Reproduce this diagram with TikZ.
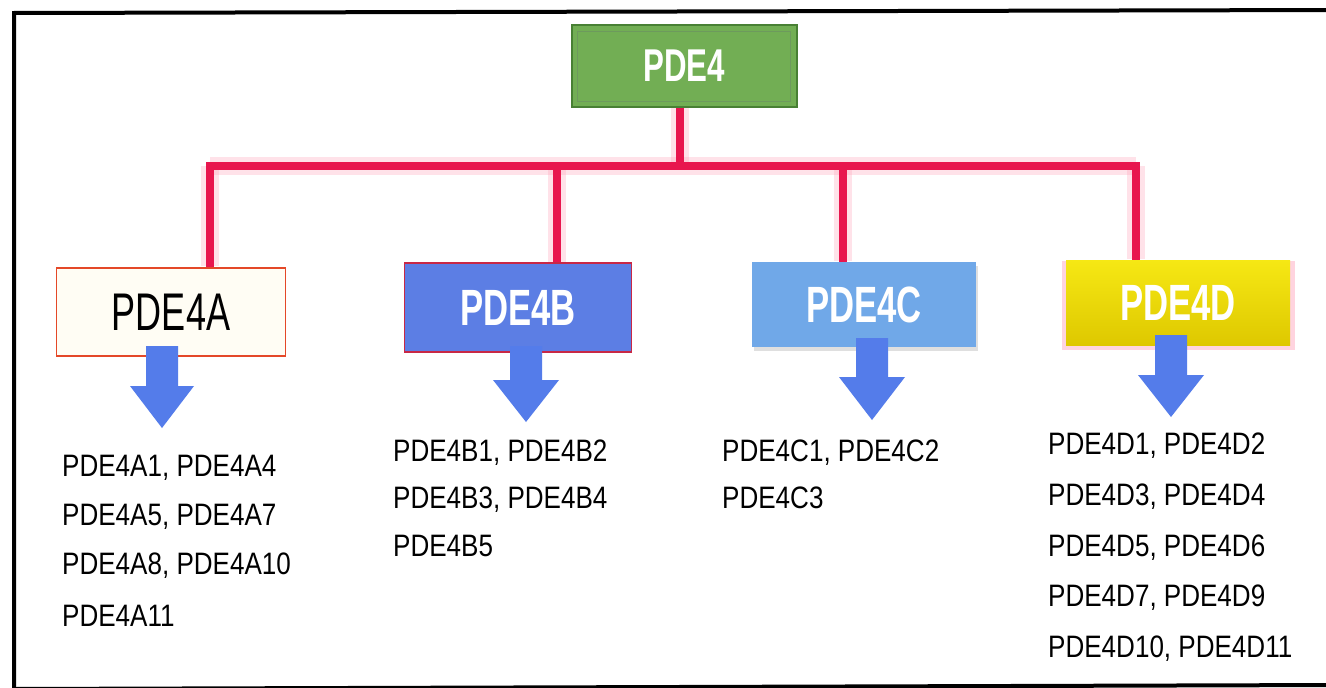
\documentclass[tikz,border=0pt]{standalone}
\usepackage{fontspec}
\setmainfont{Liberation Sans}
\newfontfamily\listfont{Liberation Sans}[FakeStretch=0.84]
\newfontfamily\headfont{Liberation Sans}[FakeStretch=0.68]
\usetikzlibrary{shadows,calc}
\definecolor{conred}{RGB}{232,22,78}
\definecolor{glowpink}{RGB}{255,160,185}
\definecolor{arrowblue}{RGB}{84,124,234}
\definecolor{greenfill}{RGB}{114,174,84}
\definecolor{greenedge}{RGB}{72,128,52}
\definecolor{bfill}{RGB}{92,126,228}
\definecolor{bedge}{RGB}{200,40,70}
\definecolor{cfill}{RGB}{112,168,232}
\definecolor{dfill}{RGB}{246,232,20}
\definecolor{dfilltwo}{RGB}{222,200,0}
\definecolor{afill}{RGB}{255,253,244}
\definecolor{aedge}{RGB}{228,72,40}
\newcommand\bluearrow[6]{\fill[arrowblue] ({#1-#3},#2) -- ({#1+#3},#2) -- ({#1+#3},#4) -- ({#1+#5},#4) -- (#1,#6) -- ({#1-#5},#4) -- ({#1-#3},#4) -- cycle;}
\tikzset{
  headbox/.style={minimum width=226pt, minimum height=86pt, inner sep=0pt,
    font=\headfont\bfseries\fontsize{51}{51}\selectfont, text=white},
  listtxt/.style={anchor=base west, inner sep=0pt, font=\listfont\fontsize{31}{31}\selectfont},
  con/.style={conred, line width=7.5pt},
  conglow/.style={glowpink, line width=18pt, opacity=0.3},
}
\begin{document}
\begin{tikzpicture}[x=1pt,y=-1pt]
\useasboundingbox (0,0) rectangle (1326,688);
\fill[white] (0,0) rectangle (1326,688);
% frame
\draw[black, line width=4pt] (14,700) -- (14,13) -- (1340,10);
\draw[black, line width=4pt] (14,689) -- (1340,685);

% junction coordinates
\coordinate (jt) at (680,166);
\coordinate (ja) at (210,166);
\coordinate (jb) at (557,166);
\coordinate (jc) at (843,166);
\coordinate (jd) at (1136,166);

% boxes
\node[headbox, fill=greenfill, draw=greenedge, line width=2pt, minimum width=225pt, minimum height=82pt,
  font=\headfont\bfseries\fontsize{46}{46}\selectfont] (pde4) at (684,66) {PDE4};
\draw[greenedge!80, line width=1pt] ($(pde4.north west)+(7,7)$) rectangle ($(pde4.south east)+(-7,-7)$);

% glow under connectors
\draw[conglow] (pde4.south -| jt) -- (jt);
\draw[conglow] (ja) -- (jd);
\draw[conglow] (ja) -- ++(0,100);
\draw[conglow] (jb) -- ++(0,96);
\draw[conglow] (jc) -- ++(0,95);
\draw[conglow] (jd) -- ++(0,93);

\node[headbox, fill=afill, draw=aedge, line width=1.5pt, minimum width=229pt, minimum height=88pt,
  text=black, font=\headfont\fontsize{53}{53}\selectfont] (pdea) at (171,312) {PDE4A};
\node[headbox, fill=bfill, draw=bedge, line width=1.5pt, minimum width=227pt, minimum height=89pt] (pdeb) at (518,307.5) {PDE4B};
\node[headbox, fill=cfill, minimum width=224pt, minimum height=85pt,
  drop shadow={opacity=0.25, shadow xshift=2pt, shadow yshift=-4pt}] (pdec) at (864,304.5) {PDE4C};
\node[headbox, top color=dfill, bottom color=dfilltwo, minimum width=224pt, minimum height=85pt,
  drop shadow={fill=glowpink, opacity=0.45, shadow xshift=0pt, shadow yshift=-3pt, shadow scale=1.04}] (pded) at (1178,302.5) {PDE4D};

% connectors
\draw[con] (pde4.south -| jt) -- (jt);
\draw[con, line cap=rect] (ja) -- (jd);
\draw[con] (ja) -- (ja |- pdea.north);
\draw[con] (jb) -- (jb |- pdeb.north);
\draw[con] (jc) -- (jc |- pdec.north);
\draw[con] (jd) -- (jd |- pded.north);

% down arrows
\bluearrow{162}{346}{16}{386}{32}{428}
\bluearrow{526}{346}{16}{380}{33}{422}
\bluearrow{872}{338}{16}{377}{33}{420}
\bluearrow{1171}{335}{16}{375}{33}{417}

% lists
\node[listtxt] (a1) at (62,476) {PDE4A1, PDE4A4};
\node[listtxt] (a2) at (62,525) {PDE4A5, PDE4A7};
\node[listtxt] (a3) at (62,574) {PDE4A8, PDE4A10};
\node[listtxt] (a4) at (62,626) {PDE4A11};

\node[listtxt] (b1) at (393,461) {PDE4B1, PDE4B2};
\node[listtxt] (b2) at (393,508) {PDE4B3, PDE4B4};
\node[listtxt] (b3) at (393,556) {PDE4B5};

\node[listtxt] (c1) at (722,461) {PDE4C1, PDE4C2};
\node[listtxt] (c2) at (722,508) {PDE4C3};

\node[listtxt] (d1) at (1048,454) {PDE4D1, PDE4D2};
\node[listtxt] (d2) at (1048,505) {PDE4D3, PDE4D4};
\node[listtxt] (d3) at (1048,556) {PDE4D5, PDE4D6};
\node[listtxt] (d4) at (1048,606) {PDE4D7, PDE4D9};
\node[listtxt] (d5) at (1048,657) {PDE4D10, PDE4D11};
\end{tikzpicture}
\end{document}
